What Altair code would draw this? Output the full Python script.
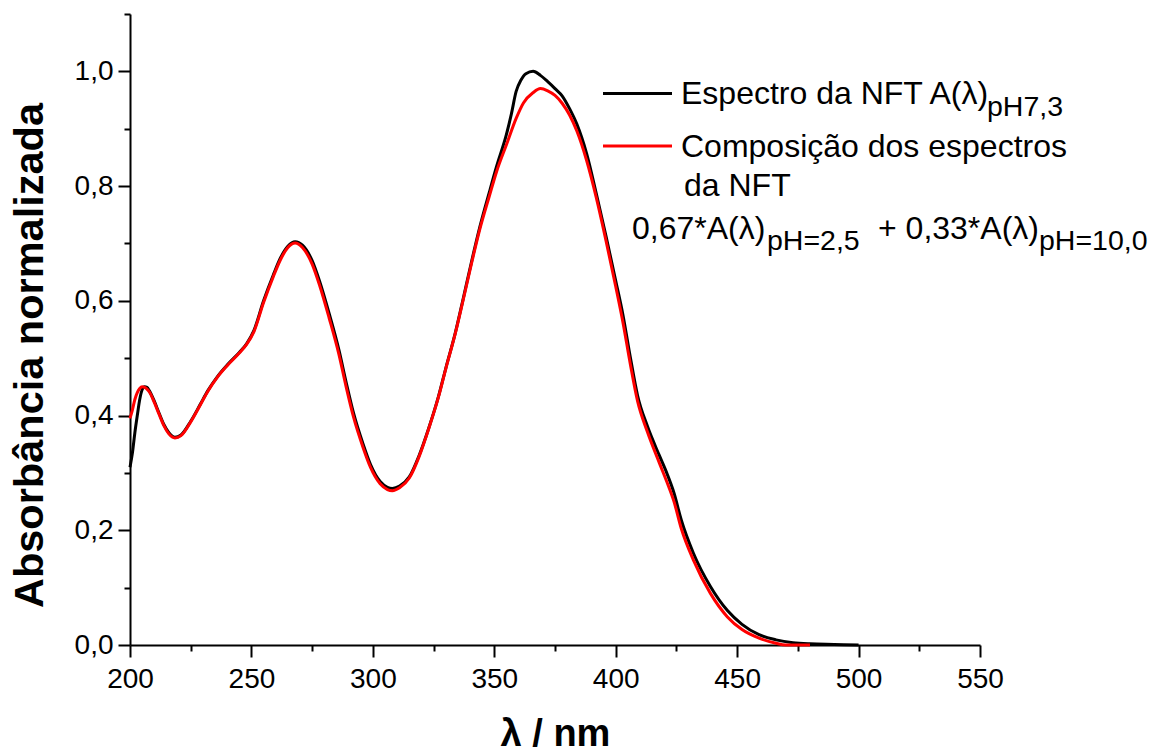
import altair as alt
import pandas as pd

# ---- data ----
wl_black = [200, 201, 202, 203, 204, 205, 206, 207, 208, 210, 212, 214, 216, 218.5, 221, 225, 229, 232,
            236, 240, 245, 248, 251, 255, 259, 262, 265, 268, 271, 275, 278, 282, 286, 289, 292, 296,
            299, 303, 306, 308, 311, 315, 319, 323, 327, 330, 334, 337, 341, 344, 348, 351, 355, 357,
            359, 361, 363, 366, 369, 372, 375, 378, 381, 384, 388, 392, 396, 400, 403, 406, 409, 413,
            418, 421, 424, 427, 432, 439, 446, 452, 459, 466, 473, 480, 490, 500]
a_black = [0.31, 0.335, 0.37, 0.40, 0.428, 0.445, 0.450, 0.449, 0.443, 0.425, 0.404, 0.384, 0.370, 0.362,
           0.366, 0.390, 0.420, 0.443, 0.468, 0.488, 0.510, 0.525, 0.548, 0.600, 0.645, 0.675, 0.695,
           0.703, 0.697, 0.670, 0.635, 0.578, 0.515, 0.458, 0.405, 0.350, 0.315, 0.285, 0.275, 0.273,
           0.277, 0.293, 0.330, 0.378, 0.433, 0.482, 0.545, 0.600, 0.675, 0.728, 0.790, 0.835, 0.890,
           0.925, 0.965, 0.985, 0.996, 1.0, 0.993, 0.982, 0.970, 0.957, 0.935, 0.908, 0.857, 0.787,
           0.713, 0.635, 0.575, 0.502, 0.435, 0.382, 0.330, 0.300, 0.265, 0.218, 0.160, 0.102, 0.060,
           0.036, 0.018, 0.009, 0.004, 0.002, 0.001, 0.0]

wl_red = [200, 201, 202, 203, 204, 205, 206, 207, 208, 210, 212, 214, 216, 218.5, 221, 225, 229, 232,
          236, 240, 245, 248, 251, 255, 259, 262, 265, 268, 271, 275, 278, 282, 286, 289, 292, 296,
          299, 303, 306, 308, 311, 315, 319, 323, 327, 330, 334, 337, 341, 344, 348, 351, 355, 359,
          362, 366, 369, 372, 375, 378, 381, 384, 388, 392, 396, 400, 403, 406, 409, 413, 418, 421,
          424, 427, 432, 439, 446, 452, 459, 466, 470, 480]
a_red = [0.395, 0.41, 0.428, 0.440, 0.447, 0.450, 0.449, 0.446, 0.441, 0.423, 0.402, 0.382, 0.368, 0.361,
         0.365, 0.389, 0.419, 0.442, 0.467, 0.487, 0.509, 0.524, 0.546, 0.597, 0.642, 0.672, 0.693,
         0.701, 0.693, 0.664, 0.628, 0.570, 0.507, 0.450, 0.398, 0.344, 0.310, 0.281, 0.271, 0.269,
         0.274, 0.291, 0.328, 0.377, 0.432, 0.481, 0.544, 0.598, 0.672, 0.724, 0.783, 0.826, 0.872,
         0.918, 0.945, 0.963, 0.970, 0.966, 0.958, 0.944, 0.924, 0.896, 0.845, 0.780, 0.705, 0.625,
         0.562, 0.490, 0.425, 0.372, 0.317, 0.285, 0.250, 0.203, 0.148, 0.090, 0.049, 0.027, 0.012,
         0.003, 0.0, 0.0]

x_major = [200, 250, 300, 350, 400, 450, 500, 550]
x_minor = [225, 275, 325, 375, 425, 475, 525]
y_major = [0.0, 0.2, 0.4, 0.6, 0.8, 1.0]
y_minor = [0.1, 0.3, 0.5, 0.7, 0.9, 1.1]

legend_labels = ["Espectro da NFT A(λ)", "Composição dos espectros"]
legend_colors = ["#000000", "#ff0000"]
extra_texts = ["pH7,3", "da NFT", "0,67*A(λ)", "pH=2,5", "+ 0,33*A(λ)", "pH=10,0"]

FONT = "Liberation Sans"
W, H = 850, 631

df = pd.concat([
    pd.DataFrame({"wl": wl_black, "A": a_black, "s": "preto", "o": 0}),
    pd.DataFrame({"wl": wl_red, "A": a_red, "s": "vermelho", "o": 1}),
])

xs = alt.Scale(domain=[200, 550], nice=False, zero=False)
ys = alt.Scale(domain=[0, 1.1], nice=False, zero=True)

ax_x = alt.Axis(values=x_major, title="λ / nm", titleFont=FONT, titleFontSize=38, titleFontWeight="bold",
                titleColor="black", titleBaseline="alphabetic", titleY=100,
                labelFont=FONT, labelFontSize=28, labelColor="black", labelPadding=8,
                tickSize=12, tickWidth=2, tickColor="black", domainColor="black", domainWidth=2,
                grid=False, labelFlush=False, format="d", orient="bottom")
ax_y = alt.Axis(values=y_major, title="Absorbância normalizada", titleFont=FONT, titleFontSize=41.5,
                titleFontWeight="bold", titleColor="black", titleBaseline="alphabetic", titleX=-88, titleY=341,
                labelFont=FONT, labelFontSize=28, labelColor="black", labelPadding=5,
                labelExpr="replace(format(datum.value, '.1f'), '.', ',')",
                tickSize=12, tickWidth=2, tickColor="black", domainColor="black", domainWidth=2,
                grid=False, labelFlush=False, orient="left")

lines = alt.Chart(df).mark_line(strokeWidth=3, interpolate="monotone").encode(
    x=alt.X("wl:Q", scale=xs, axis=ax_x),
    y=alt.Y("A:Q", scale=ys, axis=ax_y),
    color=alt.Color("s:N", scale=alt.Scale(domain=["preto", "vermelho"], range=legend_colors), legend=None),
    order="o:Q",
    detail="s:N",
)

minor_df = pd.DataFrame({"mx": [x_minor[0]], "my": [y_minor[0]]})
minor = alt.Chart(minor_df).mark_point(opacity=0).encode(
    x=alt.X("mx:Q", scale=xs, axis=alt.Axis(values=x_minor, labels=False, title=None, tickSize=6, tickWidth=2,
                                            tickColor="black", domain=False, grid=False, orient="bottom")),
    y=alt.Y("my:Q", scale=ys, axis=alt.Axis(values=y_minor, labels=False, title=None, tickSize=6, tickWidth=2,
                                            tickColor="black", domain=False, grid=False, orient="left")),
)

# legend
leg_lines = []
for lbl, col, yp in zip(legend_labels, legend_colors, [79.5, 132]):
    leg_lines.append(alt.Chart(pd.DataFrame({"l": [lbl]})).mark_rule(color=col, strokeWidth=3).encode(
        x=alt.value(473), x2=alt.value(542), y=alt.value(yp)))

MAIN, SUB = 32, 28.5
txt_items = [
    (legend_labels[0], 551, 89.5, MAIN),
    (extra_texts[0], 857, 102, SUB),
    (legend_labels[1], 551, 142.5, MAIN),
    (extra_texts[1], 554, 181.5, MAIN),
    (extra_texts[2], 502, 224.5, MAIN),
    (extra_texts[3], 637, 235.5, SUB),
    (extra_texts[4], 748, 224.5, MAIN),
    (extra_texts[5], 909, 235.5, SUB),
]
texts = []
for t, xp, yp, fs in txt_items:
    texts.append(alt.Chart(pd.DataFrame({"t": [t]})).mark_text(
        align="left", baseline="alphabetic", font=FONT, fontSize=fs, color="black").encode(
        text="t:N", x=alt.value(xp), y=alt.value(yp)))

chart = alt.layer(lines, minor, *leg_lines, *texts).resolve_axis(x="independent", y="independent").properties(
    width=W, height=H, autosize="none", background="white",
    padding={"left": 130, "top": 14, "right": 194, "bottom": 108},
).configure_view(stroke=None)

chart.save("out.html", embed_options={"renderer": "svg", "actions": False})
